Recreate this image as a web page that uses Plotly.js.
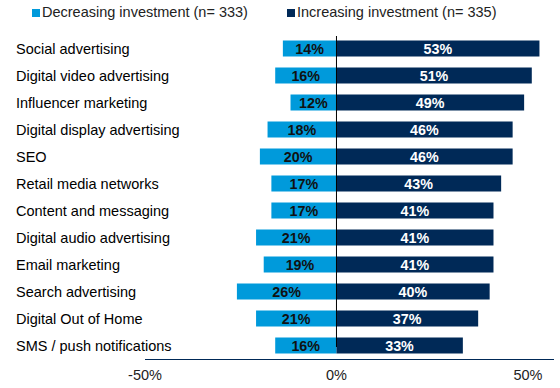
<!DOCTYPE html>
<html>
<head>
<meta charset="utf-8">
<script src="https://cdn.plot.ly/plotly-3.0.1.min.js"></script>
<style>html,body{margin:0;padding:0;background:#fff;}#chart{width:560px;height:388px;}</style>
</head>
<body>
<div id="chart"></div>
<script>
const categories = ["Social advertising","Digital video advertising","Influencer marketing","Digital display advertising","SEO","Retail media networks","Content and messaging","Digital audio advertising","Email marketing","Search advertising","Digital Out of Home","SMS / push notifications"];
const decreasing = [14,16,12,18,20,17,17,21,19,26,21,16];
const increasing = [53,51,49,46,46,43,41,41,41,40,37,33];
const seriesNames = ["Decreasing investment (n= 333)","Increasing investment (n= 335)"];
const tickVals = [-50,0,50];
const tickText = ["-50%","0%","50%"];

const colDec = "#009ADB";
const colInc = "#002957";
const W = 560, L = 145, R = 6, PW = W - L - R;
const px2paper = p => (p - L) / PW;
const font = "Liberation Sans, Arial, sans-serif";

const traces = [
  {type:"bar", orientation:"h", y:categories, x:decreasing.map(v=>-v), name:seriesNames[0],
   marker:{color:colDec}, text:decreasing.map(v=>v+"%"), textposition:"inside", insidetextanchor:"middle",
   textfont:{family:font, size:14.3, color:"#111111", weight:"bold"}, constraintext:"none", hoverinfo:"none"},
  {type:"bar", orientation:"h", y:categories, x:increasing, name:seriesNames[1],
   marker:{color:colInc}, text:increasing.map(v=>v+"%"), textposition:"inside", insidetextanchor:"middle",
   textfont:{family:font, size:14.3, color:"#ffffff", weight:"bold"}, constraintext:"none", hoverinfo:"none"}
];

const annotations = categories.map(c => ({
  xref:"paper", yref:"y", x:px2paper(14), y:c, xanchor:"left", yanchor:"middle",
  text:c, showarrow:false, font:{family:font, size:14.5, color:"#000000"}
}));
const legX = [32, 287];
const shapes = [];
seriesNames.forEach((n,i) => {
  annotations.push({xref:"paper", yref:"paper", x:px2paper(legX[i]+8), y:1, yshift:23, xanchor:"left", yanchor:"middle",
    text:n, showarrow:false, font:{family:font, size:14.5, color:"#222222"}});
  shapes.push({type:"rect", xref:"paper", yref:"paper", x0:px2paper(legX[i]), x1:px2paper(legX[i]+8),
    y0:1+(35-17)/324, y1:1+(35-9)/324, fillcolor:i===0?colDec:colInc, line:{width:0}});
});
shapes.push({type:"line", xref:"x", yref:"paper", x0:0, x1:0, y0:(359-347)/324, y1:(359-36)/324,
  line:{color:"#000000", width:1}, layer:"above"});

const layout = {
  width:560, height:388, margin:{l:L, r:R, t:35, b:29},
  paper_bgcolor:"#ffffff", plot_bgcolor:"#ffffff",
  barmode:"relative", bargap:0.41, showlegend:false,
  font:{family:font, size:14.5, color:"#222222"},
  xaxis:{range:[-50,56.8], tickvals:tickVals, ticktext:tickText, showgrid:false, zeroline:false,
    showline:true, linecolor:"#002957", linewidth:1, ticks:"", fixedrange:true, ticklabelstandoff:3,
    tickfont:{family:font, size:14.5, color:"#222222"}},
  yaxis:{type:"category", autorange:"reversed", showticklabels:false, showgrid:false, zeroline:false,
    showline:false, ticks:"", fixedrange:true},
  annotations:annotations, shapes:shapes
};
Plotly.newPlot("chart", traces, layout, {displayModeBar:false, staticPlot:true});
</script>
</body>
</html>
